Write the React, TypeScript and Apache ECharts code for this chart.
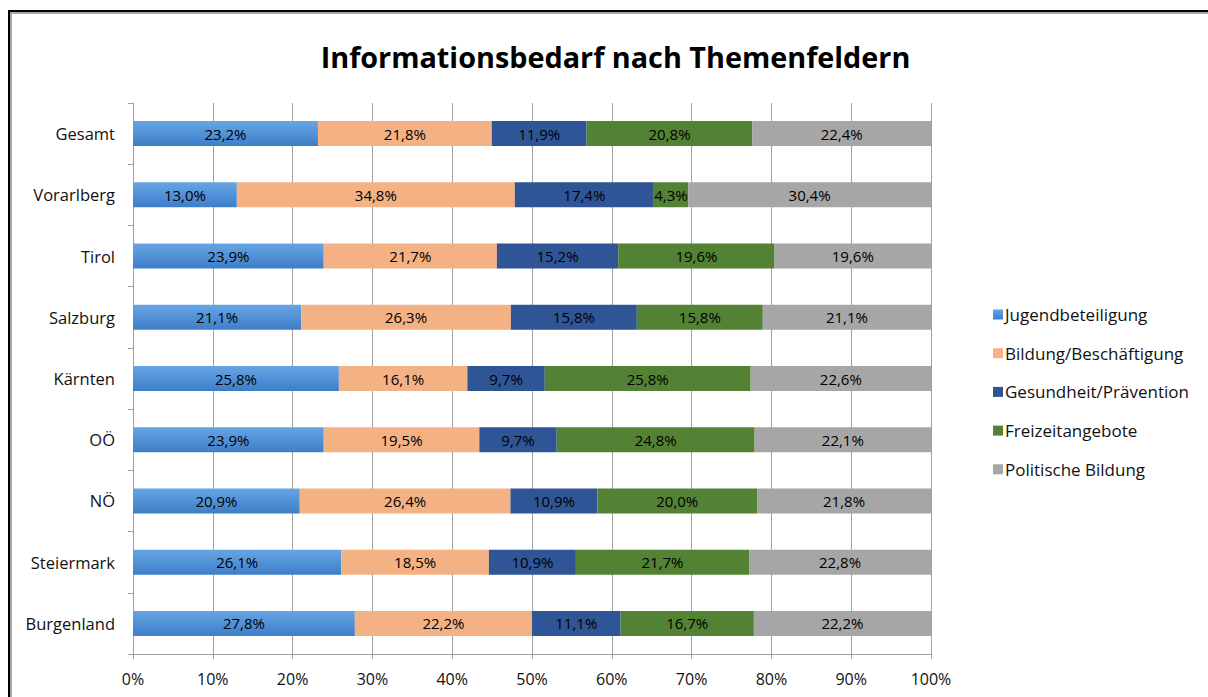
import React, { useEffect, useRef } from "react";
import * as echarts from "echarts";

const categories = ["Gesamt", "Vorarlberg", "Tirol", "Salzburg", "Kärnten", "OÖ", "NÖ", "Steiermark", "Burgenland"];
const seriesNames = ["Jugendbeteiligung", "Bildung/Beschäftigung", "Gesundheit/Prävention", "Freizeitangebote", "Politische Bildung"];
const jugend = [23.2, 13.0, 23.9, 21.1, 25.8, 23.9, 20.9, 26.1, 27.8];
const bildung = [21.8, 34.8, 21.7, 26.3, 16.1, 19.5, 26.4, 18.5, 22.2];
const gesundheit = [11.9, 17.4, 15.2, 15.8, 9.7, 9.7, 10.9, 10.9, 11.1];
const freizeit = [20.8, 4.3, 19.6, 15.8, 25.8, 24.8, 20.0, 21.7, 16.7];
const politik = [22.4, 30.4, 19.6, 21.1, 22.6, 22.1, 21.8, 22.8, 22.2];
const xTicks = [0, 10, 20, 30, 40, 50, 60, 70, 80, 90, 100];

const FONT = "'Open Sans', 'Noto Sans', sans-serif";

export default function App() {
  const ref = useRef<HTMLDivElement>(null);
  useEffect(() => {
    if (!ref.current) return;
    const chart = echarts.init(ref.current, undefined, { renderer: "svg" });
    const colors = [
      new echarts.graphic.LinearGradient(0, 0, 0, 1, [
        { offset: 0, color: "#66a5e4" },
        { offset: 1, color: "#3e7ec9" },
      ]),
      "#f4b183",
      "#2f5597",
      "#548235",
      "#a6a6a6",
    ];
    const data = [jugend, bildung, gesundheit, freizeit, politik];
    // 100% stacked: each row normalised to its own total, labels show the raw values
    const rowSums = categories.map((_, j) => data.reduce((s, arr) => s + arr[j], 0));
    const fmt = (v: number) => v.toFixed(1).replace(".", ",") + "%";
    const option: any = {
      animation: false,
      textStyle: { fontFamily: FONT },
      title: {
        text: "Informationsbedarf nach Themenfeldern",
        left: 610.5,
        textAlign: "center",
        top: 37,
        textStyle: { fontFamily: FONT, fontSize: 28.8, fontWeight: "bold", color: "#000" },
      },
      legend: {
        orient: "vertical",
        left: 988,
        top: 301,
        itemWidth: 10,
        itemHeight: 10,
        itemGap: 21.7,
        icon: "rect",
        textStyle: { fontFamily: FONT, fontSize: 17, color: "#111", padding: [0, 0, 0, -3] },
        data: seriesNames,
      },
      grid: { left: 133, right: 277, top: 103, bottom: 43 },
      xAxis: {
        type: "value",
        min: 0,
        max: 100,
        interval: 10,
        axisLine: { show: true, lineStyle: { color: "#a0a0a0" } },
        axisTick: { show: true, length: 5, lineStyle: { color: "#a0a0a0" } },
        splitLine: { show: true, lineStyle: { color: "#a0a0a0" } },
        axisLabel: {
          margin: 17,
          fontFamily: FONT,
          fontSize: 16,
          color: "#111",
          formatter: (v: number) => (xTicks.includes(v) ? v + "%" : ""),
        },
      },
      yAxis: {
        type: "category",
        inverse: true,
        data: categories,
        axisLine: { show: true, lineStyle: { color: "#a0a0a0" } },
        axisTick: { show: true, length: 5, lineStyle: { color: "#a0a0a0" } },
        axisLabel: { margin: 18, fontFamily: FONT, fontSize: 16.5, color: "#111" },
      },
      series: seriesNames.map((name, i) => ({
        name,
        type: "bar",
        stack: "total",
        barWidth: 25,
        data: data[i].map((v, j) => ({ value: (v / rowSums[j]) * 100, raw: v })),
        itemStyle: { color: colors[i] },
        label: {
          show: true,
          position: "inside",
          fontFamily: FONT,
          fontSize: 15,
          color: "#000",
          formatter: (p: any) => fmt(p.data.raw),
        },
      })),
      graphic: [
        { type: "line", shape: { x1: 8, y1: 11, x2: 1208, y2: 11 }, style: { stroke: "#000", lineWidth: 2 } },
        { type: "line", shape: { x1: 10, y1: 13, x2: 1208, y2: 13 }, style: { stroke: "#a6a6a6", lineWidth: 2 } },
        { type: "line", shape: { x1: 9, y1: 10, x2: 9, y2: 697 }, style: { stroke: "#000", lineWidth: 2 } },
        { type: "line", shape: { x1: 11, y1: 12, x2: 11, y2: 697 }, style: { stroke: "#a6a6a6", lineWidth: 2 } },
      ],
    };
    chart.setOption(option);
    return () => chart.dispose();
  }, []);
  return (
    <div
      ref={ref}
      style={{ position: "fixed", left: 0, top: 0, width: 1208, height: 697, background: "#fff" }}
    />
  );
}
